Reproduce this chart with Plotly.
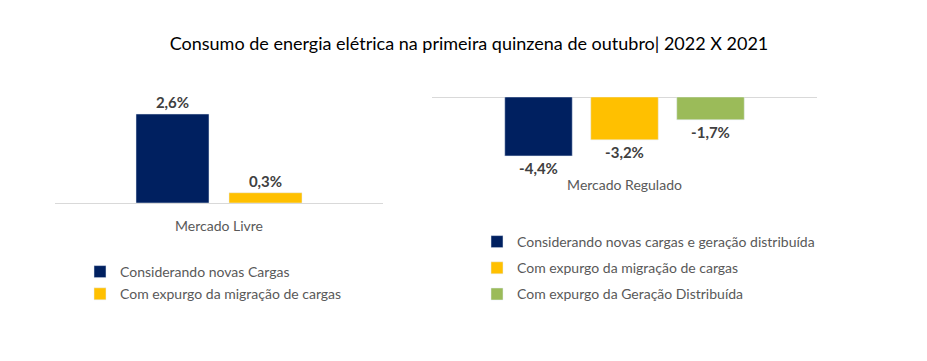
import plotly.graph_objects as go

title = "Consumo de energia elétrica na primeira quinzena de outubro| 2022 X 2021"

livre_cat = ["Mercado Livre"]
livre_names = ["Considerando novas Cargas", "Com expurgo da migração de cargas"]
livre_vals = [2.6, 0.3]

reg_cat = ["Mercado Regulado"]
reg_names = ["Considerando novas cargas e geração distribuída",
             "Com expurgo da migração de cargas",
             "Com expurgo da Geração Distribuída"]
reg_vals = [-4.4, -3.2, -1.7]

colors = ["#002060", "#FFC000", "#9BBB59"]
FONT = "Lato"
W, H = 927, 361
OFF = 8  # page body margin

def fmt(v):
    return f"{v:.1f}%".replace(".", ",")

fig = go.Figure()
for i, (n, v) in enumerate(zip(livre_names, livre_vals)):
    fig.add_trace(go.Bar(x=livre_cat, y=[v], name=n, marker_color=colors[i],
                         text=[fmt(v)], textposition="outside", cliponaxis=False,
                         textfont=dict(family=FONT, size=15, color="#404040", weight="bold"),
                         xaxis="x", yaxis="y", legend="legend", legendgroup=f"l{i}"))
for i, (n, v) in enumerate(zip(reg_names, reg_vals)):
    fig.add_trace(go.Bar(x=reg_cat, y=[v], name=n, marker_color=colors[i],
                         text=[fmt(v)], textposition="outside", cliponaxis=False,
                         textfont=dict(family=FONT, size=15, color="#404040", weight="bold"),
                         xaxis="x2", yaxis="y2", legend="legend2", legendgroup=f"r{i}"))

def px_x(p):
    return (p - OFF) / W

def px_y(p):
    return 1 - (p - OFF) / H

fig.update_layout(
    width=W, height=H,
    margin=dict(l=0, r=0, t=0, b=0),
    paper_bgcolor="white", plot_bgcolor="white",
    barmode="group", bargap=0.3, bargroupgap=0.215,
    font=dict(family=FONT, size=14, color="#595959"),
    title=dict(text=title, x=px_x(469), xanchor="center", y=px_y(44), yanchor="middle",
               font=dict(family=FONT, size=18, color="#000000")),
    xaxis=dict(domain=[px_x(55), px_x(383)], range=[-0.6172, 0.6172],
               showline=True, linecolor="#D9D9D9", linewidth=1,
               ticks="outside", ticklen=10, tickcolor="rgba(0,0,0,0)",
               showgrid=False, anchor="y", fixedrange=True,
               tickfont=dict(family=FONT, size=14, color="#595959")),
    yaxis=dict(domain=[px_y(203), px_y(100)], range=[0, 3.01], visible=False,
               showgrid=False, zeroline=False, anchor="x"),
    xaxis2=dict(domain=[px_x(432), px_x(817)], range=[-0.5223, 0.5223],
                showline=False, ticks="outside", ticklen=2, tickcolor="rgba(0,0,0,0)",
                showgrid=False, anchor="y2",
                tickfont=dict(family=FONT, size=14, color="#595959")),
    yaxis2=dict(domain=[px_y(170), px_y(97)], range=[-5.45, 0],
                showgrid=False, zeroline=True, zerolinecolor="#D9D9D9", zerolinewidth=1,
                showticklabels=False, anchor="x2"),
    legend=dict(x=px_x(80), y=px_y(256), xanchor="left", yanchor="top",
                font=dict(family=FONT, size=14, color="#595959"), itemwidth=30,
                traceorder="grouped", tracegroupgap=1, bgcolor="rgba(0,0,0,0)"),
    legend2=dict(x=px_x(477), y=px_y(226), xanchor="left", yanchor="top",
                 font=dict(family=FONT, size=14, color="#595959"), itemwidth=30,
                 traceorder="grouped", tracegroupgap=5, bgcolor="rgba(0,0,0,0)"),
)

fig.write_html("out.html")
